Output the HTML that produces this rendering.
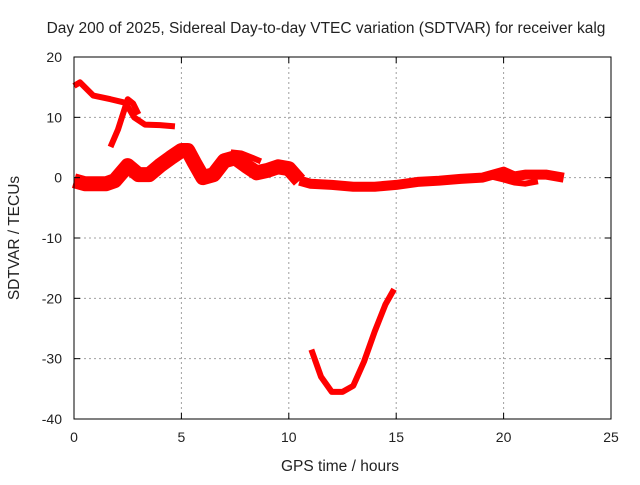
<!DOCTYPE html>
<html><head><meta charset="utf-8"><style>
body{margin:0;background:#fff}
text{font-family:"Liberation Sans",sans-serif;fill:#222}
</style></head><body>
<svg id="chart" width="640" height="480" xmlns="http://www.w3.org/2000/svg">
<rect width="640" height="480" fill="#fff"/>
<text x="326" y="33" font-size="15.5" text-anchor="middle">Day 200 of 2025, Sidereal Day-to-day VTEC variation (SDTVAR) for receiver kalg</text>
<text x="340" y="471" font-size="15.5" text-anchor="middle">GPS time / hours</text>
<text transform="translate(19,238) rotate(-90)" font-size="15.5" text-anchor="middle">SDTVAR / TECUs</text>
<g id="grid"></g><g id="series"></g><g id="axes"></g>
</svg>
<script>
const xTicks=[0,5,10,15,20,25];
const yTicks=[20,10,0,-10,-20,-30,-40];
const topHours=[0,0.28,0.9,1.7,2.4,2.8,3.3,4.0,4.7];
const topValues=[15.2,15.8,13.6,13,12.4,10,8.8,8.7,8.5];
const riseHours=[1.7,2.05,2.5,2.75,3.0];
const riseValues=[5.1,8,13,12.3,10.5];
const mainHours=[0,0.5,1,1.5,1.9,2.5,3,3.5,4,4.5,5,5.3,5.6,6,6.5,7,7.5,8,8.5,9,9.5,10,10.5];
const mainValues=[-0.5,-1,-1,-1,-0.5,2,0.5,0.5,2,3.3,4.5,4.5,2.5,0,0.5,2.8,3.3,2,0.8,1.2,1.8,1.5,-0.5];
const spurHours=[7.3,7.8,8.3,8.7];
const spurValues=[4.2,4,3.3,2.7];
const tailHours=[10.5,11,12,13,14,15,16,17,18,19,19.5,20,20.5,21,22,22.8];
const tailValues=[-0.5,-1,-1.2,-1.5,-1.5,-1.2,-0.7,-0.5,-0.2,0,0.5,1,0.2,0.5,0.5,0];
const loopHours=[19.3,20,20.5,21,21.6];
const loopValues=[0.3,-0.3,-0.8,-1,-0.6];
const dipHours=[11.05,11.5,12,12.5,13,13.5,14,14.5,14.9];
const dipValues=[-28.5,-33,-35.5,-35.5,-34.5,-30.5,-25.5,-21,-18.5];

const X0=74,X1=611,Y0=57,Y1=419;
const sx=h=>X0+(h/25)*(X1-X0);
const sy=v=>Y0+((20-v)/60)*(Y1-Y0);
const NS="http://www.w3.org/2000/svg";
function mk(tag,attrs,parent){const e=document.createElementNS(NS,tag);for(const k in attrs)e.setAttribute(k,attrs[k]);parent.appendChild(e);return e;}
const grid=document.getElementById('grid'),axes=document.getElementById('axes'),ser=document.getElementById('series');
xTicks.forEach(t=>{
  if(t>0&&t<25){const l=mk('line',{x1:sx(t),x2:sx(t),y1:Y0,y2:Y1,stroke:'#a0a0a0','stroke-dasharray':'2,3'},grid);
  
  }
  const tx=mk('text',{x:sx(t),y:Y1+23,'font-size':14,'text-anchor':'middle'},axes);tx.textContent=t;
  
  
  mk('line',{x1:sx(t),x2:sx(t),y1:Y1,y2:Y1-6,stroke:'#000'},axes);
  mk('line',{x1:sx(t),x2:sx(t),y1:Y0,y2:Y0+6,stroke:'#000'},axes);
});
yTicks.forEach(t=>{
  if(t<20&&t>-40){const l=mk('line',{x1:X0,x2:X1,y1:sy(t),y2:sy(t),stroke:'#a0a0a0','stroke-dasharray':'2,3'},grid);
  
  }
  const tx=mk('text',{x:X0-12,y:sy(t)+5,'font-size':14,'text-anchor':'end'},axes);tx.textContent=t;
  
  
  mk('line',{x1:X0,x2:X0+6,y1:sy(t),y2:sy(t),stroke:'#000'},axes);
  mk('line',{x1:X1,x2:X1-6,y1:sy(t),y2:sy(t),stroke:'#000'},axes);
});
const fr=mk('rect',{x:X0,y:Y0,width:X1-X0,height:Y1-Y0,fill:'none',stroke:'#000'},axes);


function line(hs,vs,w,name){
  const p=mk('polyline',{points:hs.map((h,i)=>sx(h)+','+sy(vs[i])).join(' '),fill:'none',stroke:'#f00','stroke-width':w,'stroke-linejoin':'round','stroke-linecap':'butt'},ser);
  
  
}
line(topHours,topValues,6,'series-top-track');
line(riseHours,riseValues,6,'series-rising-track');
line(mainHours,mainValues,15,'series-main-band');
line(spurHours,spurValues,6,'series-spur');
line(tailHours,tailValues,10,'series-tail-band');
line(loopHours,loopValues,6,'series-loop');
line(dipHours,dipValues,6,'series-dip-track');
</script>
</body></html>
